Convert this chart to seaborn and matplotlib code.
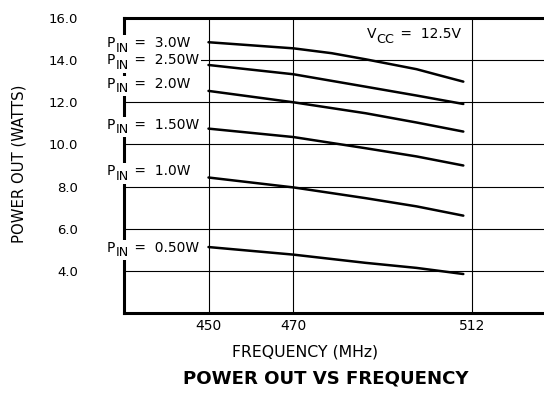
import matplotlib
matplotlib.use("Agg")
import matplotlib.pyplot as plt
from matplotlib.patches import Rectangle
from matplotlib.transforms import Bbox
import seaborn as sns
import pandas as pd

freqs_3_0 = [450, 470, 479, 487, 499, 504, 510]
p_3_0 = [14.85, 14.56, 14.33, 14.04, 13.57, 13.3, 12.98]
freqs = [450, 470, 487, 499, 510]
p_2_5 = [13.77, 13.33, 12.74, 12.32, 11.92]
p_2_0 = [12.54, 12.0, 11.48, 11.04, 10.61]
p_1_5 = [10.75, 10.35, 9.82, 9.43, 9.0]
p_1_0 = [8.43, 7.96, 7.45, 7.06, 6.62]
p_0_5 = [5.13, 4.77, 4.38, 4.14, 3.85]
series_names = ["3.0W", "2.50W", "2.0W", "1.50W", "1.0W", "0.50W"]
series_freqs = [freqs_3_0, freqs, freqs, freqs, freqs, freqs]
series_vals = [p_3_0, p_2_5, p_2_0, p_1_5, p_1_0, p_0_5]
label_y = [14.62, 13.8, 12.68, 10.75, 8.53, 4.9]
x_ticks = [450, 470, 512]
y_ticks = [4, 6, 8, 10, 12, 14, 16]
y_ticklabels = ["4.0", "6.0", "8.0", "10.0", "12.0", "14.0", "16.0"]

sns.set_style("white")
plt.rcParams['font.family'] = ['DejaVu Sans']
for k in ['text.color', 'axes.labelcolor', 'xtick.color', 'ytick.color']:
    plt.rcParams[k] = 'black'

rows = []
for name, fr, vals in zip(series_names, series_freqs, series_vals):
    for f, v in zip(fr, vals):
        rows.append({"freq": f, "power": v, "pin": name})
df = pd.DataFrame(rows)

W, H = 544, 401
fig = plt.figure(figsize=(W/100, H/100), dpi=100)
ax = fig.add_axes([124/W, (H-313)/H, 1 - 124/W, (313-18)/H])

sns.lineplot(data=df, x="freq", y="power", hue="pin", palette=["black"]*6,
             linewidth=1.8, legend=False, ax=ax, sort=True)

ax.set_xlim(430.1, 529)
ax.set_ylim(2, 16)
ax.set_xticks(x_ticks)
ax.set_xticklabels([str(t) for t in x_ticks], fontsize=10)
ax.set_yticks(y_ticks)
ax.set_yticklabels(y_ticklabels, fontsize=9.5)
ax.tick_params(axis='y', length=0, pad=33)
ax.tick_params(axis='x', length=0, pad=4.5)
ax.grid(True, color='black', linewidth=0.8)
ax.set_axisbelow(True)

for s in ['left', 'top', 'bottom']:
    ax.spines[s].set_visible(True)
    ax.spines[s].set_color('black')
    ax.spines[s].set_linewidth(2.2)
ax.spines['right'].set_visible(False)
ax.set_xlabel("")
ax.set_ylabel("")

renderer = fig.canvas.get_renderer()
fs = 10


def sub_label(x_px, y_px, main, sub, rest, box=False):
    t1 = fig.text(x_px / W, y_px / H, main, ha='left', va='baseline', fontsize=fs, zorder=5)
    b1 = t1.get_window_extent(renderer)
    t2 = fig.text((b1.x1 + 0.5) / W, (y_px - 4.5) / H, sub, ha='left', va='baseline',
                  fontsize=fs * 0.92, zorder=5)
    b2 = t2.get_window_extent(renderer)
    t3 = fig.text((b2.x1 + 1) / W, y_px / H, rest, ha='left', va='baseline', fontsize=fs, zorder=5)
    b3 = t3.get_window_extent(renderer)
    if box:
        u = Bbox.union([b1, b2, b3])
        r = Rectangle(((u.x0 - 2) / W, (u.y0 - 1) / H), (u.width + 4) / W, (u.height + 2) / H,
                      transform=fig.transFigure, facecolor='white', edgecolor='none', zorder=4)
        fig.add_artist(r)


label_x_px = 106.5
for name, y in zip(series_names, label_y):
    yp = ax.transData.transform((450, y))[1]
    sub_label(label_x_px, yp, "P", "IN", " =  " + name, box=True)

yv = ax.transData.transform((450, 15.04))[1]
sub_label(366.5, yv, "V", "CC", " =  12.5V")

fig.text(305.5 / W, 1 - 352 / H, "FREQUENCY (MHz)", ha='center', va='center', fontsize=11.3)
fig.text(19 / W, 1 - 163.5 / H, "POWER OUT (WATTS)", rotation=90, ha='center', va='center', fontsize=10.7)
fig.text(326 / W, 1 - 378.5 / H, "POWER OUT VS FREQUENCY", ha='center', va='center',
         fontsize=13.1, fontweight='bold')

fig.savefig("out.png", dpi=100)
